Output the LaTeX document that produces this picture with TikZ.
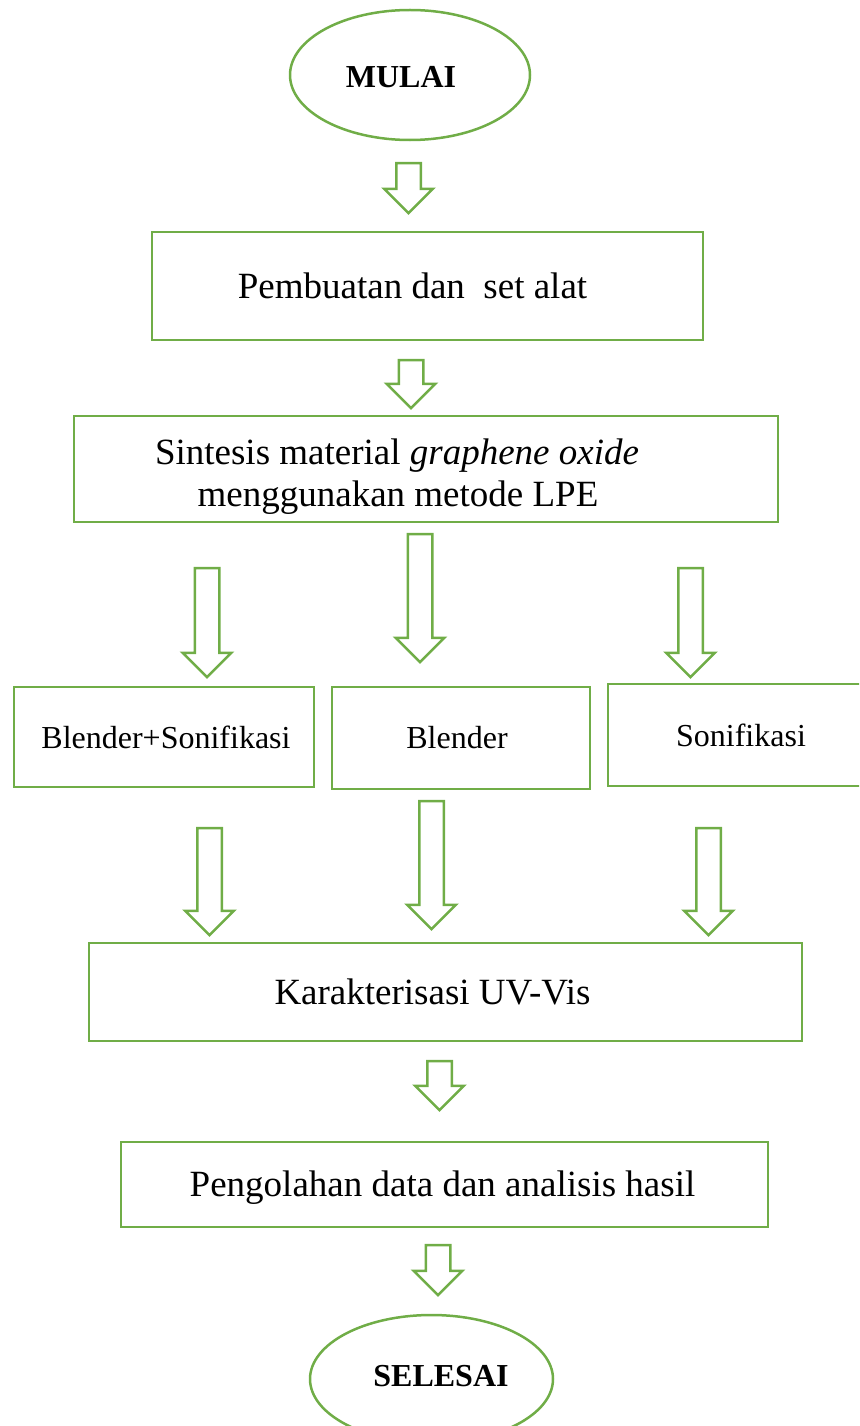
\documentclass[tikz,border=0pt]{standalone}
\usepackage{fontspec}
\setmainfont{Liberation Serif}
\usetikzlibrary{shapes.geometric, shapes.arrows}
\definecolor{leafgreen}{RGB}{112,173,71}
\tikzstyle{terminal} = [ellipse, draw=leafgreen, line width=2.5pt, font=\fontsize{32}{38}\selectfont\bfseries, inner sep=0pt]
\tikzstyle{stage} = [rectangle, draw=leafgreen, line width=2.5pt, font=\fontsize{37}{42}\selectfont, inner sep=0pt]
\tikzstyle{variant} = [rectangle, draw=leafgreen, line width=2.5pt, font=\fontsize{32}{38}\selectfont, inner sep=0pt]
\tikzstyle{downarrow} = [single arrow, draw=leafgreen, line width=2.5pt, rotate=-90, minimum width=0pt, inner xsep=0pt, inner ysep=11pt, single arrow head extend=12pt, single arrow head indent=0pt]

\begin{document}
\begin{tikzpicture}[x=1pt, y=-1pt]

\path[use as bounding box, clip] (0,0) rectangle (859,1426);

%% NODES

\node (start) [terminal, minimum width=240pt, minimum height=130pt] at (410,75) {\rule{0pt}{25pt}MULAI\hspace*{18pt}};
\node (prep) [stage, minimum width=551pt, minimum height=108pt] at (427.5,286) {Pembuatan dan \ set alat\hspace*{30pt}};
\node (synth) [stage, align=center, minimum width=704pt, minimum height=106pt] at (426,469) {\rule{0pt}{41pt}Sintesis material \textit{graphene oxide}\hspace*{58pt}\\menggunakan metode LPE\hspace*{56pt}};
\node (blso) [variant, minimum width=300pt, minimum height=100pt] at (164,737) {\hspace*{4pt}Blender+Sonifikasi};
\node (blend) [variant, minimum width=258pt, minimum height=102pt] at (461,738) {Blender\hspace*{8pt}};
\node (sono) [variant, minimum width=266pt, minimum height=102pt] at (741,735) {Sonifikasi};
\node (uvvis) [stage, minimum width=713pt, minimum height=98pt] at (445.5,992) {Karakterisasi UV-Vis\hspace*{26pt}};
\node (olah) [stage, minimum width=647pt, minimum height=85pt] at (444.5,1184.5) {\rule{0pt}{31pt}Pengolahan data dan analisis hasil\hspace*{4pt}};
\node (finish) [terminal, minimum width=243pt, minimum height=128pt] at (431.5,1379) {\hspace*{19pt}\rule[-6pt]{0pt}{6pt}SELESAI};

%% ARROWS

\node (a1) [downarrow, minimum height=50pt] at (408.5,182) {};
\node (a2) [downarrow, minimum height=48pt] at (411,378) {};
\node (a3) [downarrow, minimum height=109pt] at (207,616.5) {};
\node (a4) [downarrow, minimum height=128pt] at (420,592) {};
\node (a5) [downarrow, minimum height=109pt] at (690.5,616.5) {};
\node (a6) [downarrow, minimum height=107pt] at (209.5,875.5) {};
\node (a7) [downarrow, minimum height=128pt] at (431.5,859) {};
\node (a8) [downarrow, minimum height=107pt] at (708.5,875.5) {};
\node (a9) [downarrow, minimum height=49pt] at (439.5,1079.5) {};
\node (a10) [downarrow, minimum height=50pt] at (438,1264) {};

\end{tikzpicture}
\end{document}
